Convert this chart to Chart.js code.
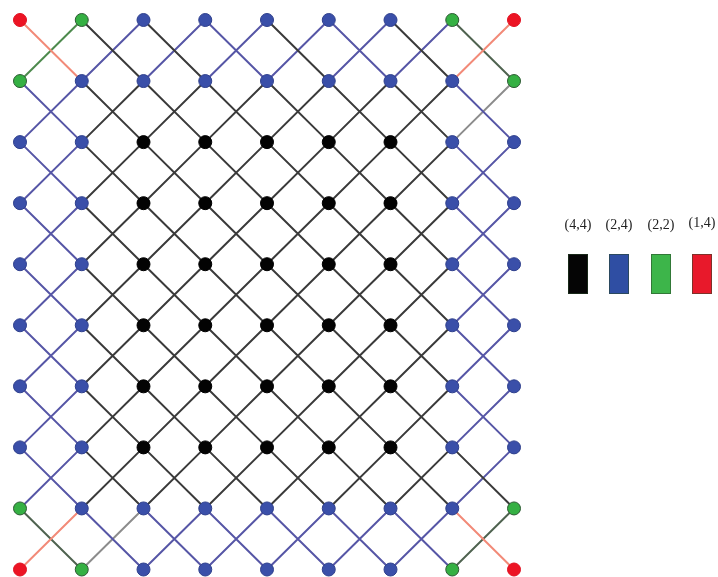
<!DOCTYPE html>
<html>
<head>
<meta charset="utf-8">
<script src="https://cdn.jsdelivr.net/npm/chart.js@4/dist/chart.umd.min.js"></script>
<style>
  html, body { margin: 0; padding: 0; background: #fff; }
  #wrap { position: relative; width: 718px; height: 577px; overflow: hidden; }
  #c { position: absolute; left: 0; top: 0; }
  .lab { position: absolute; font-family: "Liberation Serif", "DejaVu Serif", serif; font-size: 14px;
         color: #222; transform: translate(-50%, -50%); white-space: nowrap; }
  .sw { position: absolute; width: 20px; height: 40px; box-sizing: border-box; border: 1px solid rgba(40,70,40,0.55); }
</style>
</head>
<body>
<div id="wrap">
  <canvas id="c" width="718" height="577"></canvas>
  <div id="legend"></div>
</div>
<script>
// Node types on the 9 x 10 lattice, one string per row (top row first).
// K = (4,4), B = (2,4), G = (2,2), R = (1,4)
const nodeRows = [
  "RGBBBBBGR",
  "GBBBBBBBG",
  "BBKKKKKBB",
  "BBKKKKKBB",
  "BBKKKKKBB",
  "BBKKKKKBB",
  "BBKKKKKBB",
  "BBKKKKKBB",
  "GBBBBBBBG",
  "RGBBBBBGR"
];

// Link colours between row r and row r+1.
// linksDown[r][c]: (c, r) -> (c+1, r+1); linksUp[r][c]: (c+1, r) -> (c, r+1)
// k = black, b = blue, s = grey, g = green, d = dark green, r = red
const linksDown = [
  "rkkbkbkd",
  "bkkkkkkb",
  "bkkkkkkb",
  "bkkkkkkb",
  "bkkkkkkb",
  "bkkkkkkb",
  "bkkkkkkb",
  "bkkkkkkk",
  "dbbbbbbr"
];
const linksUp = [
  "gbbbbbbr",
  "bkkkkkks",
  "bkkkkkkb",
  "bkkkkkkb",
  "bkkkkkkb",
  "bkkkkkkb",
  "bkkkkkkb",
  "bkkkkkkb",
  "rsbbbbbd"
];

// Legend entries
const legendLabels = ["(4,4)", "(2,4)", "(2,2)", "(1,4)"];
const legendKeys = ["K", "B", "G", "R"];

const nodeStyle = {
  K: { fill: "#030303", stroke: "#000000" },
  B: { fill: "#3a4fa9", stroke: "#2e3f8c" },
  G: { fill: "#35b043", stroke: "#2d5a33" },
  R: { fill: "#ec1424", stroke: "#e01020" }
};
const swatchColor = { K: "#050505", B: "#2f4ea3", G: "#3db54a", R: "#e8192b" };
const linkStyle = {
  k: "#3a3a3a",
  b: "#5656a6",
  s: "#8c8c8c",
  g: "#4d8a4d",
  d: "#4f6350",
  r: "#f28a78"
};

const COLS = nodeRows[0].length;
const ROWS = nodeRows.length;

// Group link segments by colour; NaN points break the polyline between segments.
const linkData = {};
function addLink(key, x1, y1, x2, y2) {
  if (!linkData[key]) linkData[key] = [];
  linkData[key].push({ x: x1, y: y1 }, { x: x2, y: y2 }, { x: NaN, y: NaN });
}
for (let r = 0; r < ROWS - 1; r++) {
  for (let c = 0; c < COLS - 1; c++) {
    addLink(linksDown[r][c], c, r, c + 1, r + 1);
    addLink(linksUp[r][c], c + 1, r, c, r + 1);
  }
}

const nodeData = {};
nodeRows.forEach((row, r) => {
  [...row].forEach((t, c) => {
    if (!nodeData[t]) nodeData[t] = [];
    nodeData[t].push({ x: c, y: r });
  });
});

const datasets = [];
Object.keys(nodeData).forEach(t => {
  datasets.push({
    label: t,
    data: nodeData[t],
    order: 0,
    showLine: false,
    pointRadius: 6.5,
    pointHoverRadius: 6.5,
    pointBackgroundColor: nodeStyle[t].fill,
    pointBorderColor: nodeStyle[t].stroke,
    pointBorderWidth: 1,
    clip: false
  });
});
Object.keys(linkData).forEach(k => {
  datasets.push({
    label: "link-" + k,
    data: linkData[k],
    order: 1,
    showLine: true,
    spanGaps: false,
    borderColor: linkStyle[k],
    borderWidth: 2,
    pointRadius: 0,
    pointHoverRadius: 0,
    clip: false
  });
});

new Chart(document.getElementById("c"), {
  type: "scatter",
  data: { datasets },
  options: {
    responsive: false,
    animation: false,
    devicePixelRatio: 1,
    layout: { padding: { left: 20, right: 204, top: 20, bottom: 5 } },
    plugins: { legend: { display: false }, tooltip: { enabled: false } },
    scales: {
      x: { type: "linear", min: 0, max: COLS - 1, display: false },
      y: { type: "linear", min: 0, max: ROWS - 1, reverse: true, display: false }
    }
  }
});

// Legend: labels above coloured swatches
const legend = document.getElementById("legend");
const legendX = [578, 619, 661, 702];
legendLabels.forEach((txt, i) => {
  const lab = document.createElement("div");
  lab.className = "lab";
  lab.textContent = txt;
  lab.style.left = legendX[i] + "px";
  lab.style.top = (i === 3 ? 223 : 225) + "px";
  legend.appendChild(lab);
  const sw = document.createElement("div");
  sw.className = "sw";
  sw.style.left = (legendX[i] - 10) + "px";
  sw.style.top = "254px";
  sw.style.background = swatchColor[legendKeys[i]];
  legend.appendChild(sw);
});
</script>
</body>
</html>
